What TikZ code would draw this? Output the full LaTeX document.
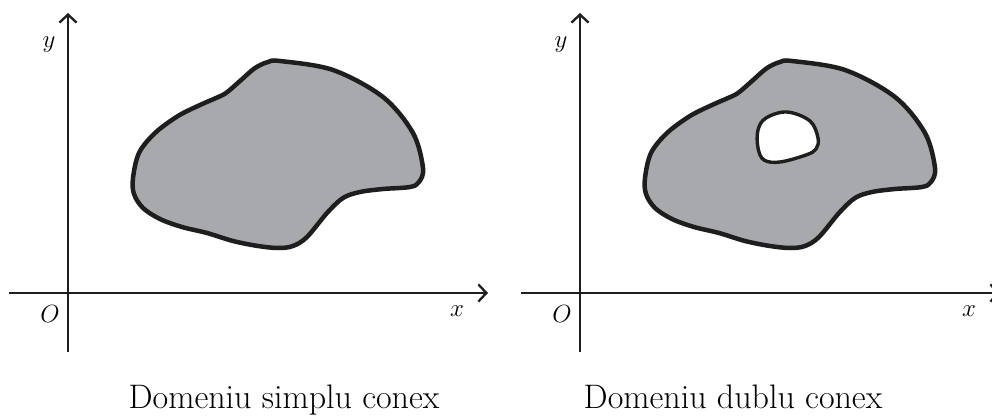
\documentclass[tikz,border=0pt]{standalone}
\usetikzlibrary{arrows.meta}
\definecolor{blobgray}{RGB}{167,169,172}
\definecolor{ink}{RGB}{30,30,30}
\begin{document}
\begin{tikzpicture}[x=1pt,y=-1pt,
  axis/.style={draw=ink, line width=2.3pt, -{Straight Barb[length=8pt,width=17pt,line width=2.3pt]}},
  blob/.style={draw=ink, line width=4.5pt, fill=blobgray, line join=round},
  hole/.style={draw=ink, line width=3.4pt, fill=white, line join=round},
  lbl/.style={inner sep=0pt, font=\fontsize{27}{31}\selectfont},
  caption/.style={inner sep=0pt, anchor=base, font=\fontsize{34}{40}\selectfont}]
\useasboundingbox (0,0) rectangle (992,415);

\foreach \dx/\nm in {0/L,512/R}{
  \begin{scope}[xshift=\dx]
    \coordinate (xs\nm) at (9,293);
    \coordinate (xe\nm) at (488,293);
    \coordinate (ys\nm) at (68,352);
    \coordinate (ye\nm) at (68,13);
    \draw[axis] (xs\nm) -- (xe\nm);
    \draw[axis] (ys\nm) -- (ye\nm);
    \node[lbl] (ylab\nm) at (49,45) {$y$};
    \node[lbl] (olab\nm) at (50,314) {$O$};
    \node[lbl] (xlab\nm) at (457,311) {$x$};
    \path[blob] plot[smooth cycle, tension=0.55] coordinates {
      (133,178) (139,153) (155,133) (178,116) (200,105) (216,98) (226,93)
      (240,81) (255,68) (268,62) (280,61) (333,70) (383,97) (413,133) (423,168)
      (419,182) (410,187) (383,189) (360,192) (343,198) (327,213) (307,237)
      (293,246) (278,248) (258,246) (233,241) (207,233) (182,227) (160,219)
      (143,208) (134,194)};
  \end{scope}
}
\path[hole] plot[smooth cycle, tension=0.6] coordinates {
  (787,112) (810,121) (818,138) (816,149) (806,155) (780,162) (764,160)
  (758,148) (758,130) (766,118)};

\node[caption] (capL) at (284,408) {Domeniu simplu conex};
\node[caption] (capR) at (733,408) {Domeniu dublu conex};
\end{tikzpicture}
\end{document}
